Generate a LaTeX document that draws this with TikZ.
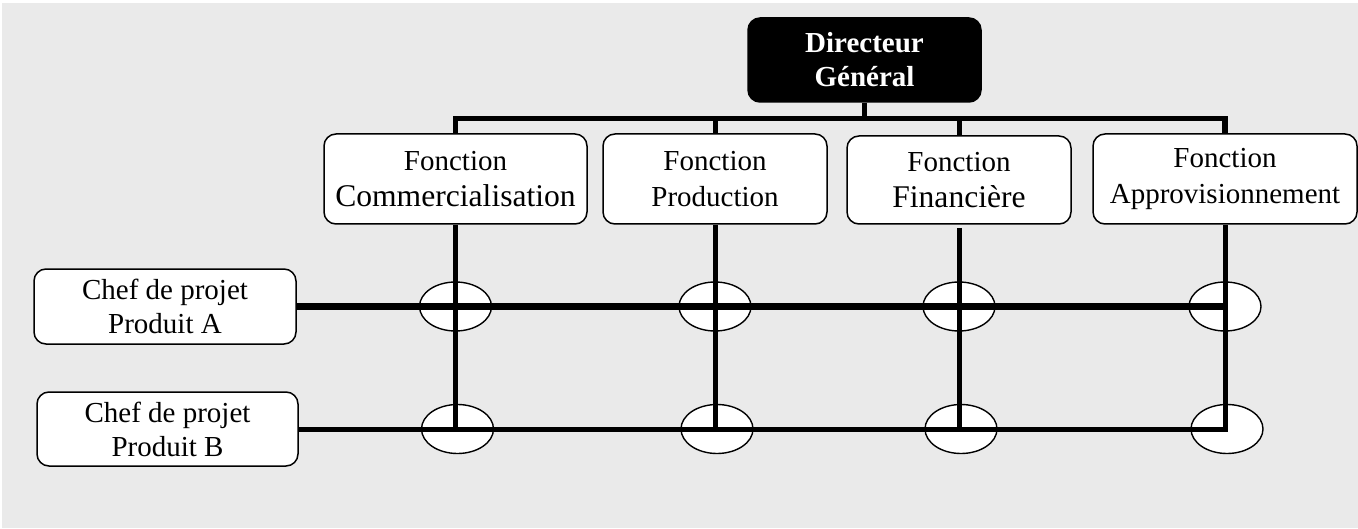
\documentclass[tikz,border=0pt]{standalone}
\usepackage{fontspec}
\setmainfont{Liberation Serif}
\usetikzlibrary{calc, shapes.geometric}
\definecolor{fond}{RGB}{234,234,234}

\begin{document}
\begin{tikzpicture}[x=0.5pt, y=-0.5pt,
	boite/.style={draw, line width=0.75pt, rounded corners=6pt, fill=white, align=center, inner sep=0pt, font=\fontsize{14.5}{17}\selectfont},
	fonction/.style={boite, minimum height=45pt, font=\fontsize{14.5}{18}\selectfont},
	inter/.style={draw, ellipse, line width=0.7pt, fill=white, minimum width=36pt, minimum height=24.5pt, inner sep=0pt},
	trait/.style={line width=2.5pt}]
\useasboundingbox (0,0) rectangle (1358,529);
\fill[fond] (2,3) rectangle (1358,528);
% direction
\node[boite, fill=black, text=white, font=\fontsize{14.5}{17}\selectfont\bfseries, minimum width=116.5pt, minimum height=42pt] (dg) at (864.5,60) {Directeur\\Général};
% fonctions
\node[fonction, minimum width=131.5pt] (com) at (455.5,179) {Fonction\\{\fontsize{15.8}{18}\selectfont Commercialisation}};
\node[fonction, minimum width=112pt] (prod) at (715,179) {Fonction\\Production};
\node[fonction, minimum width=112pt, minimum height=44pt] (fin) at (959,180) {Fonction\\{\fontsize{15.8}{18}\selectfont Financière}};
\node[fonction, minimum width=132pt] (appro) at (1225,179) {Fonction\\Approvisionnement};
% projets
\node[boite, minimum width=131pt, minimum height=37.5pt] (chefA) at (165,306.5) {Chef de projet\\Produit A};
\node[boite, minimum width=130.5pt, minimum height=37pt] (chefB) at (167.5,429) {Chef de projet\\Produit B};
\foreach \f in {com,prod,fin,appro}{
	\node[inter] (\f-A) at (\f |- chefA) {};
	\node[inter] (\f-B) at ([xshift=1pt]\f |- chefB) {};
	}
% liaisons
\draw[trait] (dg.south) -- ++(0,16) coordinate (haut);
\draw[trait, line width=2.75pt] (com.north) -- (com.north |- haut) -- (appro.north |- haut) -- (appro.north);
\draw[trait] (prod.north) -- (prod.north |- haut);
\draw[trait] (fin.north) -- (fin.north |- haut);
\draw[trait] (com.south) -- (com.south |- chefB.east);
\draw[trait] (prod.south) -- (prod.south |- chefB.east);
\draw[trait] ([yshift=-1.5pt]fin.south) -- (fin.south |- chefB.east);
\draw[trait, line width=3.5pt] (chefA.east) -- ([xshift=1.5pt]appro.south |- chefA.east);
\draw[trait] (chefB.east) -- (appro.south |- chefB.east) -- (appro.south);
\end{tikzpicture}
\end{document}
